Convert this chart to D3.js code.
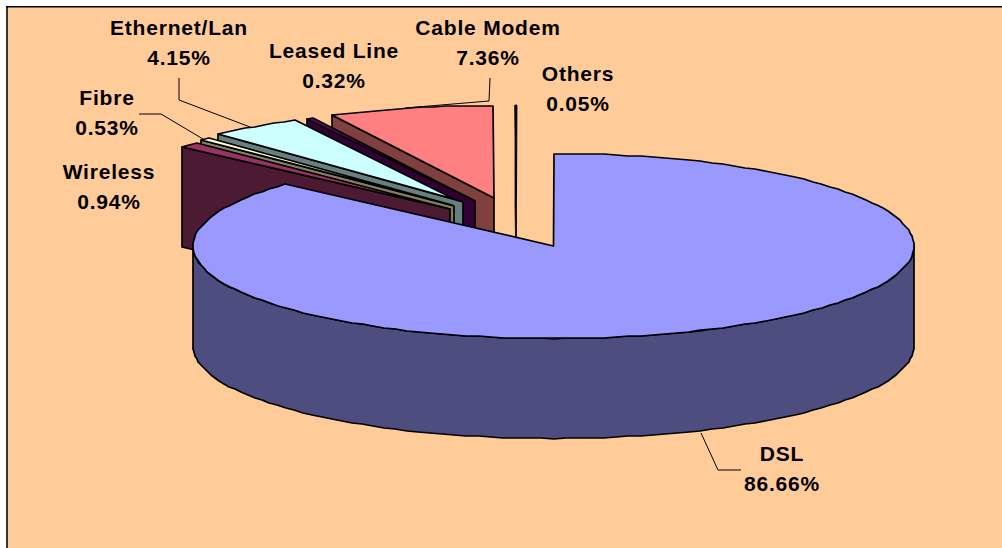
<!DOCTYPE html>
<html><head><meta charset="utf-8">
<script src="https://cdn.jsdelivr.net/npm/d3@7/dist/d3.min.js"></script>
<style>html,body{margin:0;padding:0;background:#fff}svg{display:block}text{font-family:"Liberation Sans",Arial,sans-serif;font-weight:700;font-size:21px;letter-spacing:.8px;fill:#000}</style>
</head><body><svg id="c" width="1002" height="548"></svg>
<script>
const categories = ["DSL","Wireless","Fibre","Ethernet/Lan","Leased Line","Cable Modem","Others"];
const shares = [86.66,0.94,0.53,4.15,0.32,7.36,0.05];
const shareLabels = ["86.66%","0.94%","0.53%","4.15%","0.32%","7.36%","0.05%"];
const topColors = ["#9999FF","#993366","#FFFFCC","#CCFFFF","#660066","#FF8080","#000000"];
const wallColors = ["#4D4D80","#4D1A33","#808066","#668080","#330033","#804040","#000000"];
// layout
const centerX = [553.5,450,454,463,475,494,516.5];
const centerY = [246,209,206,202,201,198,197];
const apexX = [553.5,450,452,454,475,494,516.5];
const apexY = [246,209,205,199,201,198,197];
const labelX = [782,109,107,179,334,488,578];
const labelY = [461,179,105,35,58,35,81];
const leaders = [[[701,433],[718,470],[741,470]],null,[[139,114],[161,114],[203,139]],[[179,78],[179,100],[250,127]],null,[[490,78],[489,101],[405,108]],null];
const rx = 360.5, ry = 92.5, depth = 100;
const svg = d3.select("#c");
svg.append("rect").attr("x",7).attr("y",6).attr("width",995).attr("height",542).attr("fill","#FFCC99");
svg.append("rect").attr("x",6).attr("y",6).attr("width",2).attr("height",542).attr("fill","#333");
svg.append("rect").attr("x",6).attr("y",6).attr("width",996).attr("height",1.5).attr("fill","#000");
const arcs = d3.pie().sort(null).value(d=>d).startAngle(0).endAngle(2*Math.PI)(shares);
const xS = d3.scaleLinear().domain([-1,1]).range([-rx,rx]);
const yS = d3.scaleLinear().domain([-1,1]).range([-ry,ry]);
function P(a,i,z){return [Math.round(centerX[i]+xS(Math.sin(a))), Math.round(centerY[i]+yS(-Math.cos(a))+(z||0))];}
function arcPts(a0,a1,i,z){const n=Math.max(1,Math.ceil(Math.abs(a1-a0)/0.035));return d3.range(n+1).map(k=>P(a0+(a1-a0)*k/n,i,z));}
const line=d3.line();
function draw(pts,fill,sw){svg.append("path").attr("d",line(pts)+"Z").attr("fill",fill).attr("stroke","#000").attr("stroke-width",sw||1.7).attr("stroke-linejoin","round");}
const order=[6,5,4,3,2,1];
order.forEach(i=>{
  const a=arcs[i], c=[centerX[i],centerY[i]];
  const o=P(a.startAngle,i);
  const sw=i===6?0.8:1.7;
  draw([c,o,[o[0],o[1]+depth],[c[0],c[1]+depth]],wallColors[i],sw);
  draw([[apexX[i],apexY[i]]].concat(arcPts(a.startAngle,a.endAngle,i)),topColors[i],sw);
});
const d=arcs[0];
const low=arcPts(Math.PI/2,3*Math.PI/2,0,depth);
const up=arcPts(3*Math.PI/2,Math.PI/2,0,0);
draw(low.concat(up),wallColors[0]);
draw([[centerX[0],centerY[0]]].concat(arcPts(d.startAngle,d.endAngle,0)),topColors[0]);
leaders.forEach(l=>{if(l)svg.append("path").attr("d",line(l)).attr("fill","none").attr("stroke","#000").attr("stroke-width",1);});
categories.forEach((n,i)=>{
  const t=svg.append("text").attr("text-anchor","middle").attr("x",labelX[i]).attr("y",labelY[i]);
  t.append("tspan").attr("x",labelX[i]).text(n);
  t.append("tspan").attr("x",labelX[i]).attr("dy",30).text(shareLabels[i]);
});
</script></body></html>
